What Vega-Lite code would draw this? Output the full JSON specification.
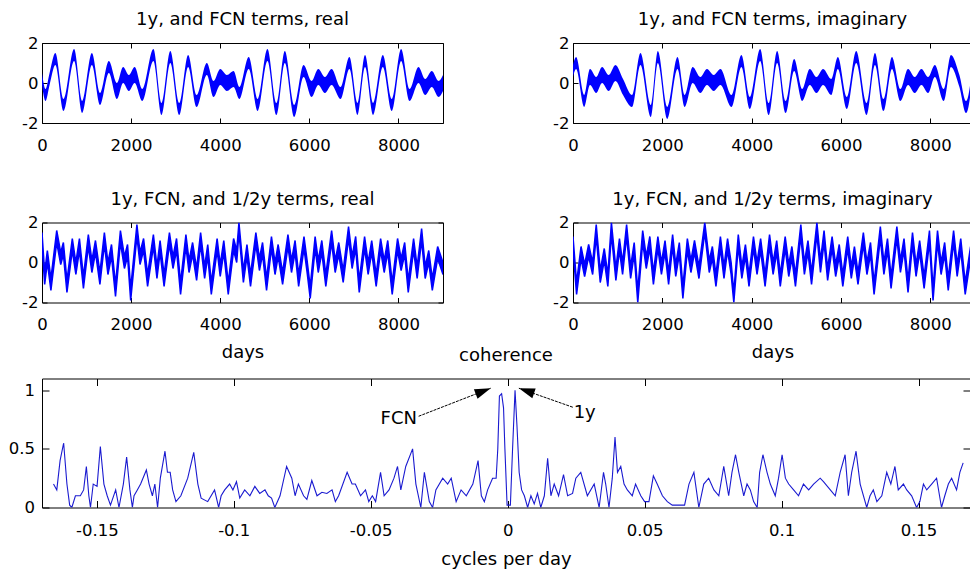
{
"$schema": "https://vega.github.io/schema/vega-lite/v6.json",
"background": "white",
"padding": {"left": 1, "top": 10, "right": 0, "bottom": 2},
"spacing": -16.5,
"datasets": {
"ts": [
{"p":"A","t":0,"lo":-0.1,"hi":0.5},{"p":"A","t":80,"lo":-0.9,"hi":-0.3},{"p":"A","t":170,"lo":-0.1,"hi":0.5},{"p":"A","t":300,"lo":0.9,"hi":1.5},{"p":"A","t":480,"lo":-1.4,"hi":-0.8},{"p":"A","t":720,"lo":1.1,"hi":1.7},{"p":"A","t":900,"lo":-1.5,"hi":-0.9},{"p":"A","t":1120,"lo":0.9,"hi":1.5},{"p":"A","t":1300,"lo":-1.1,"hi":-0.5},{"p":"A","t":1500,"lo":0.5,"hi":1.1},{"p":"A","t":1680,"lo":-0.8,"hi":0.0},{"p":"A","t":1820,"lo":0.0,"hi":0.8},{"p":"A","t":1950,"lo":-0.4,"hi":0.4},{"p":"A","t":2080,"lo":0.0,"hi":0.8},{"p":"A","t":2250,"lo":-0.9,"hi":-0.3},{"p":"A","t":2500,"lo":1.1,"hi":1.7},{"p":"A","t":2680,"lo":-1.6,"hi":-1.0},{"p":"A","t":2880,"lo":1.0,"hi":1.6},{"p":"A","t":3080,"lo":-1.6,"hi":-1.0},{"p":"A","t":3280,"lo":0.8,"hi":1.4},{"p":"A","t":3470,"lo":-1.2,"hi":-0.6},{"p":"A","t":3700,"lo":0.4,"hi":1.0},{"p":"A","t":3850,"lo":-0.7,"hi":0.1},{"p":"A","t":4000,"lo":-0.1,"hi":0.7},{"p":"A","t":4150,"lo":-0.4,"hi":0.4},{"p":"A","t":4300,"lo":-0.2,"hi":0.6},{"p":"A","t":4430,"lo":-0.8,"hi":-0.2},{"p":"A","t":4640,"lo":0.7,"hi":1.3},{"p":"A","t":4840,"lo":-1.4,"hi":-0.8},{"p":"A","t":5060,"lo":1.1,"hi":1.7},{"p":"A","t":5260,"lo":-1.6,"hi":-1.0},{"p":"A","t":5450,"lo":1.0,"hi":1.6},{"p":"A","t":5660,"lo":-1.7,"hi":-1.1},{"p":"A","t":5870,"lo":0.3,"hi":0.9},{"p":"A","t":6050,"lo":-0.7,"hi":0.1},{"p":"A","t":6200,"lo":-0.1,"hi":0.7},{"p":"A","t":6350,"lo":-0.5,"hi":0.3},{"p":"A","t":6500,"lo":-0.1,"hi":0.7},{"p":"A","t":6700,"lo":-0.8,"hi":-0.2},{"p":"A","t":6900,"lo":0.7,"hi":1.3},{"p":"A","t":7080,"lo":-1.6,"hi":-1.0},{"p":"A","t":7250,"lo":0.8,"hi":1.4},{"p":"A","t":7430,"lo":-1.6,"hi":-1.0},{"p":"A","t":7650,"lo":0.8,"hi":1.4},{"p":"A","t":7850,"lo":-1.4,"hi":-0.8},{"p":"A","t":8060,"lo":1.1,"hi":1.7},{"p":"A","t":8250,"lo":-0.9,"hi":-0.3},{"p":"A","t":8450,"lo":0.0,"hi":0.8},{"p":"A","t":8600,"lo":-0.6,"hi":0.2},{"p":"A","t":8750,"lo":-0.2,"hi":0.6},{"p":"A","t":8900,"lo":-0.7,"hi":0.1},{"p":"A","t":9000,"lo":-0.4,"hi":0.4},
{"p":"B","t":0,"lo":0.3,"hi":0.9},{"p":"B","t":70,"lo":0.7,"hi":1.3},{"p":"B","t":250,"lo":-1.2,"hi":-0.6},{"p":"B","t":380,"lo":-0.1,"hi":0.7},{"p":"B","t":520,"lo":-0.5,"hi":0.3},{"p":"B","t":650,"lo":0.0,"hi":0.8},{"p":"B","t":800,"lo":-0.4,"hi":0.4},{"p":"B","t":950,"lo":0.1,"hi":0.9},{"p":"B","t":1120,"lo":-0.6,"hi":0.2},{"p":"B","t":1320,"lo":-1.2,"hi":-0.6},{"p":"B","t":1510,"lo":0.9,"hi":1.5},{"p":"B","t":1740,"lo":-1.7,"hi":-1.1},{"p":"B","t":1900,"lo":1.0,"hi":1.6},{"p":"B","t":2110,"lo":-1.8,"hi":-1.2},{"p":"B","t":2340,"lo":0.7,"hi":1.3},{"p":"B","t":2500,"lo":-1.2,"hi":-0.6},{"p":"B","t":2680,"lo":0.0,"hi":0.8},{"p":"B","t":2850,"lo":-0.5,"hi":0.3},{"p":"B","t":3000,"lo":-0.1,"hi":0.7},{"p":"B","t":3150,"lo":-0.4,"hi":0.4},{"p":"B","t":3300,"lo":-0.1,"hi":0.7},{"p":"B","t":3550,"lo":-1.2,"hi":-0.6},{"p":"B","t":3770,"lo":0.8,"hi":1.4},{"p":"B","t":3960,"lo":-1.3,"hi":-0.7},{"p":"B","t":4190,"lo":1.1,"hi":1.7},{"p":"B","t":4380,"lo":-1.6,"hi":-1.0},{"p":"B","t":4570,"lo":1.0,"hi":1.6},{"p":"B","t":4760,"lo":-1.5,"hi":-0.9},{"p":"B","t":4950,"lo":0.6,"hi":1.2},{"p":"B","t":5130,"lo":-0.9,"hi":-0.3},{"p":"B","t":5300,"lo":-0.1,"hi":0.7},{"p":"B","t":5450,"lo":-0.5,"hi":0.3},{"p":"B","t":5600,"lo":-0.1,"hi":0.7},{"p":"B","t":5780,"lo":-0.6,"hi":0.2},{"p":"B","t":5930,"lo":0.7,"hi":1.3},{"p":"B","t":6130,"lo":-1.3,"hi":-0.7},{"p":"B","t":6340,"lo":1.0,"hi":1.6},{"p":"B","t":6570,"lo":-1.6,"hi":-1.0},{"p":"B","t":6760,"lo":0.9,"hi":1.5},{"p":"B","t":6950,"lo":-1.4,"hi":-0.8},{"p":"B","t":7140,"lo":0.7,"hi":1.3},{"p":"B","t":7330,"lo":-0.9,"hi":-0.3},{"p":"B","t":7500,"lo":-0.1,"hi":0.7},{"p":"B","t":7650,"lo":-0.5,"hi":0.3},{"p":"B","t":7800,"lo":-0.1,"hi":0.7},{"p":"B","t":7950,"lo":-0.5,"hi":0.3},{"p":"B","t":8100,"lo":0.3,"hi":0.9},{"p":"B","t":8300,"lo":-0.9,"hi":-0.3},{"p":"B","t":8460,"lo":0.8,"hi":1.4},{"p":"B","t":8650,"lo":-0.2,"hi":0.4},{"p":"B","t":8800,"lo":-1.5,"hi":-0.9},{"p":"B","t":8980,"lo":1.1,"hi":1.7},
{"p":"C","t":0,"lo":0.9,"hi":1.5},{"p":"C","t":60,"lo":-1.1,"hi":-0.5},{"p":"C","t":120,"lo":0.0,"hi":0.6},{"p":"C","t":200,"lo":-1.4,"hi":-0.8},{"p":"C","t":330,"lo":1.0,"hi":1.6},{"p":"C","t":420,"lo":-0.1,"hi":0.5},{"p":"C","t":480,"lo":0.4,"hi":1.0},{"p":"C","t":560,"lo":-1.5,"hi":-0.9},{"p":"C","t":680,"lo":0.6,"hi":1.2},{"p":"C","t":760,"lo":-0.6,"hi":0.0},{"p":"C","t":840,"lo":0.6,"hi":1.2},{"p":"C","t":930,"lo":-1.3,"hi":-0.7},{"p":"C","t":1040,"lo":0.8,"hi":1.4},{"p":"C","t":1120,"lo":-0.5,"hi":0.1},{"p":"C","t":1200,"lo":0.5,"hi":1.1},{"p":"C","t":1300,"lo":-1.1,"hi":-0.5},{"p":"C","t":1400,"lo":0.9,"hi":1.5},{"p":"C","t":1480,"lo":-0.6,"hi":0.0},{"p":"C","t":1560,"lo":0.3,"hi":0.9},{"p":"C","t":1650,"lo":-1.7,"hi":-1.1},{"p":"C","t":1760,"lo":1.0,"hi":1.6},{"p":"C","t":1850,"lo":-0.3,"hi":0.3},{"p":"C","t":1920,"lo":0.3,"hi":0.9},{"p":"C","t":1990,"lo":-1.9,"hi":-1.3},{"p":"C","t":2130,"lo":1.3,"hi":1.9},{"p":"C","t":2200,"lo":-0.1,"hi":0.5},{"p":"C","t":2280,"lo":0.6,"hi":1.2},{"p":"C","t":2370,"lo":-1.2,"hi":-0.6},{"p":"C","t":2500,"lo":0.8,"hi":1.4},{"p":"C","t":2580,"lo":-0.8,"hi":-0.2},{"p":"C","t":2650,"lo":0.5,"hi":1.1},{"p":"C","t":2740,"lo":-1.2,"hi":-0.6},{"p":"C","t":2860,"lo":0.9,"hi":1.5},{"p":"C","t":2940,"lo":-0.3,"hi":0.3},{"p":"C","t":3020,"lo":0.6,"hi":1.2},{"p":"C","t":3110,"lo":-1.6,"hi":-1.0},{"p":"C","t":3230,"lo":0.8,"hi":1.4},{"p":"C","t":3300,"lo":-0.5,"hi":0.1},{"p":"C","t":3380,"lo":0.4,"hi":1.0},{"p":"C","t":3470,"lo":-0.9,"hi":-0.3},{"p":"C","t":3560,"lo":0.9,"hi":1.5},{"p":"C","t":3650,"lo":-0.8,"hi":-0.2},{"p":"C","t":3720,"lo":0.3,"hi":0.9},{"p":"C","t":3800,"lo":-1.6,"hi":-1.0},{"p":"C","t":3930,"lo":0.6,"hi":1.2},{"p":"C","t":4000,"lo":-0.7,"hi":-0.1},{"p":"C","t":4080,"lo":0.5,"hi":1.1},{"p":"C","t":4180,"lo":-1.6,"hi":-1.0},{"p":"C","t":4300,"lo":0.6,"hi":1.2},{"p":"C","t":4370,"lo":0.0,"hi":0.6},{"p":"C","t":4420,"lo":1.5,"hi":2.0},{"p":"C","t":4520,"lo":-1.0,"hi":-0.4},{"p":"C","t":4600,"lo":0.3,"hi":0.9},{"p":"C","t":4680,"lo":-1.2,"hi":-0.6},{"p":"C","t":4800,"lo":0.9,"hi":1.5},{"p":"C","t":4880,"lo":-0.4,"hi":0.2},{"p":"C","t":4950,"lo":0.4,"hi":1.0},{"p":"C","t":5040,"lo":-1.4,"hi":-0.8},{"p":"C","t":5150,"lo":0.7,"hi":1.3},{"p":"C","t":5230,"lo":-0.6,"hi":0.0},{"p":"C","t":5300,"lo":0.3,"hi":0.9},{"p":"C","t":5400,"lo":-1.1,"hi":-0.5},{"p":"C","t":5520,"lo":0.8,"hi":1.4},{"p":"C","t":5600,"lo":-0.5,"hi":0.1},{"p":"C","t":5680,"lo":0.5,"hi":1.1},{"p":"C","t":5760,"lo":-1.2,"hi":-0.6},{"p":"C","t":5880,"lo":0.7,"hi":1.3},{"p":"C","t":5950,"lo":-0.5,"hi":0.1},{"p":"C","t":6020,"lo":-1.8,"hi":-1.2},{"p":"C","t":6130,"lo":0.7,"hi":1.3},{"p":"C","t":6200,"lo":-0.5,"hi":0.1},{"p":"C","t":6280,"lo":0.5,"hi":1.1},{"p":"C","t":6370,"lo":-1.2,"hi":-0.6},{"p":"C","t":6500,"lo":1.0,"hi":1.6},{"p":"C","t":6580,"lo":-0.5,"hi":0.1},{"p":"C","t":6660,"lo":0.4,"hi":1.0},{"p":"C","t":6760,"lo":-1.0,"hi":-0.4},{"p":"C","t":6880,"lo":1.2,"hi":1.8},{"p":"C","t":6960,"lo":-0.3,"hi":0.3},{"p":"C","t":7040,"lo":0.7,"hi":1.3},{"p":"C","t":7120,"lo":-1.5,"hi":-0.9},{"p":"C","t":7240,"lo":0.7,"hi":1.3},{"p":"C","t":7320,"lo":-0.6,"hi":0.0},{"p":"C","t":7400,"lo":0.5,"hi":1.1},{"p":"C","t":7500,"lo":-1.2,"hi":-0.6},{"p":"C","t":7600,"lo":0.6,"hi":1.2},{"p":"C","t":7680,"lo":-0.5,"hi":0.1},{"p":"C","t":7760,"lo":0.5,"hi":1.1},{"p":"C","t":7860,"lo":-1.6,"hi":-1.0},{"p":"C","t":7980,"lo":0.6,"hi":1.2},{"p":"C","t":8060,"lo":-0.4,"hi":0.2},{"p":"C","t":8140,"lo":0.4,"hi":1.0},{"p":"C","t":8220,"lo":-1.5,"hi":-0.9},{"p":"C","t":8340,"lo":0.6,"hi":1.2},{"p":"C","t":8420,"lo":-0.8,"hi":-0.2},{"p":"C","t":8520,"lo":1.1,"hi":1.7},{"p":"C","t":8600,"lo":-0.8,"hi":-0.2},{"p":"C","t":8680,"lo":0.0,"hi":0.6},{"p":"C","t":8760,"lo":-1.4,"hi":-0.8},{"p":"C","t":8880,"lo":0.2,"hi":0.8},{"p":"C","t":9000,"lo":-0.6,"hi":0.0},
{"p":"D","t":0,"lo":0.7,"hi":1.3},{"p":"D","t":80,"lo":-1.6,"hi":-1.0},{"p":"D","t":180,"lo":0.2,"hi":0.8},{"p":"D","t":260,"lo":-0.7,"hi":-0.1},{"p":"D","t":350,"lo":0.3,"hi":0.9},{"p":"D","t":440,"lo":-0.6,"hi":0.0},{"p":"D","t":520,"lo":1.3,"hi":1.9},{"p":"D","t":610,"lo":-1.0,"hi":-0.4},{"p":"D","t":700,"lo":0.1,"hi":0.7},{"p":"D","t":780,"lo":-1.2,"hi":-0.6},{"p":"D","t":860,"lo":1.4,"hi":2.0},{"p":"D","t":960,"lo":-0.9,"hi":-0.3},{"p":"D","t":1040,"lo":0.6,"hi":1.2},{"p":"D","t":1110,"lo":-0.6,"hi":0.0},{"p":"D","t":1200,"lo":1.3,"hi":1.9},{"p":"D","t":1290,"lo":-0.8,"hi":-0.2},{"p":"D","t":1370,"lo":0.4,"hi":1.0},{"p":"D","t":1450,"lo":-2.0,"hi":-1.4},{"p":"D","t":1560,"lo":1.0,"hi":1.6},{"p":"D","t":1640,"lo":-0.3,"hi":0.3},{"p":"D","t":1720,"lo":0.7,"hi":1.3},{"p":"D","t":1800,"lo":-1.1,"hi":-0.5},{"p":"D","t":1900,"lo":0.7,"hi":1.3},{"p":"D","t":1980,"lo":-0.6,"hi":0.0},{"p":"D","t":2060,"lo":0.5,"hi":1.1},{"p":"D","t":2140,"lo":-1.1,"hi":-0.5},{"p":"D","t":2230,"lo":0.8,"hi":1.4},{"p":"D","t":2300,"lo":-0.7,"hi":-0.1},{"p":"D","t":2380,"lo":0.4,"hi":1.0},{"p":"D","t":2460,"lo":-1.8,"hi":-1.2},{"p":"D","t":2560,"lo":0.6,"hi":1.2},{"p":"D","t":2640,"lo":-0.5,"hi":0.1},{"p":"D","t":2720,"lo":0.5,"hi":1.1},{"p":"D","t":2820,"lo":-0.8,"hi":-0.2},{"p":"D","t":2950,"lo":1.5,"hi":2.0},{"p":"D","t":3050,"lo":-0.5,"hi":0.1},{"p":"D","t":3120,"lo":0.2,"hi":0.8},{"p":"D","t":3200,"lo":-1.2,"hi":-0.6},{"p":"D","t":3300,"lo":0.7,"hi":1.3},{"p":"D","t":3380,"lo":-0.8,"hi":-0.2},{"p":"D","t":3460,"lo":0.6,"hi":1.2},{"p":"D","t":3540,"lo":-0.6,"hi":0.0},{"p":"D","t":3600,"lo":-2.0,"hi":-1.5},{"p":"D","t":3700,"lo":0.8,"hi":1.4},{"p":"D","t":3780,"lo":-0.8,"hi":-0.2},{"p":"D","t":3860,"lo":0.3,"hi":0.9},{"p":"D","t":3940,"lo":-1.2,"hi":-0.6},{"p":"D","t":4040,"lo":0.7,"hi":1.3},{"p":"D","t":4120,"lo":-0.6,"hi":0.0},{"p":"D","t":4200,"lo":0.6,"hi":1.2},{"p":"D","t":4300,"lo":-1.2,"hi":-0.6},{"p":"D","t":4400,"lo":0.8,"hi":1.4},{"p":"D","t":4480,"lo":-0.6,"hi":0.0},{"p":"D","t":4560,"lo":0.5,"hi":1.1},{"p":"D","t":4640,"lo":-1.2,"hi":-0.6},{"p":"D","t":4750,"lo":0.7,"hi":1.3},{"p":"D","t":4830,"lo":-0.7,"hi":-0.1},{"p":"D","t":4900,"lo":0.2,"hi":0.8},{"p":"D","t":4980,"lo":-1.2,"hi":-0.6},{"p":"D","t":5100,"lo":1.3,"hi":1.9},{"p":"D","t":5180,"lo":-0.6,"hi":0.0},{"p":"D","t":5260,"lo":0.5,"hi":1.1},{"p":"D","t":5340,"lo":-1.1,"hi":-0.5},{"p":"D","t":5460,"lo":1.4,"hi":2.0},{"p":"D","t":5540,"lo":-0.5,"hi":0.1},{"p":"D","t":5620,"lo":1.0,"hi":1.6},{"p":"D","t":5700,"lo":-0.9,"hi":-0.3},{"p":"D","t":5800,"lo":0.7,"hi":1.3},{"p":"D","t":5880,"lo":-0.7,"hi":-0.1},{"p":"D","t":5960,"lo":0.3,"hi":0.9},{"p":"D","t":6040,"lo":-1.2,"hi":-0.6},{"p":"D","t":6150,"lo":0.7,"hi":1.3},{"p":"D","t":6230,"lo":-0.8,"hi":-0.2},{"p":"D","t":6300,"lo":0.2,"hi":0.8},{"p":"D","t":6380,"lo":-1.1,"hi":-0.5},{"p":"D","t":6500,"lo":0.9,"hi":1.5},{"p":"D","t":6580,"lo":-0.6,"hi":0.0},{"p":"D","t":6660,"lo":0.4,"hi":1.0},{"p":"D","t":6740,"lo":-1.6,"hi":-1.0},{"p":"D","t":6880,"lo":1.2,"hi":1.8},{"p":"D","t":6960,"lo":-0.6,"hi":0.0},{"p":"D","t":7040,"lo":0.6,"hi":1.2},{"p":"D","t":7120,"lo":-1.3,"hi":-0.7},{"p":"D","t":7250,"lo":1.2,"hi":1.8},{"p":"D","t":7330,"lo":-0.5,"hi":0.1},{"p":"D","t":7410,"lo":0.6,"hi":1.2},{"p":"D","t":7500,"lo":-1.5,"hi":-0.9},{"p":"D","t":7600,"lo":0.9,"hi":1.5},{"p":"D","t":7680,"lo":-0.7,"hi":-0.1},{"p":"D","t":7760,"lo":0.5,"hi":1.1},{"p":"D","t":7860,"lo":-1.3,"hi":-0.7},{"p":"D","t":7980,"lo":1.0,"hi":1.6},{"p":"D","t":8060,"lo":-1.9,"hi":-1.3},{"p":"D","t":8160,"lo":1.0,"hi":1.6},{"p":"D","t":8240,"lo":-0.6,"hi":0.0},{"p":"D","t":8320,"lo":0.4,"hi":1.0},{"p":"D","t":8400,"lo":-1.4,"hi":-0.8},{"p":"D","t":8520,"lo":1.0,"hi":1.6},{"p":"D","t":8600,"lo":-0.7,"hi":-0.1},{"p":"D","t":8680,"lo":0.6,"hi":1.2},{"p":"D","t":8780,"lo":-1.6,"hi":-1.0},{"p":"D","t":8900,"lo":0.2,"hi":0.8},{"p":"D","t":8960,"lo":-0.5,"hi":0.1}
],
"coh": [
{"f":-0.1658,"c":0.2},{"f":-0.1646,"c":0.15},{"f":-0.1634,"c":0.4},{"f":-0.1621,"c":0.55},{"f":-0.1609,"c":0.2},{"f":-0.1599,"c":0.02},{"f":-0.1591,"c":0.0},{"f":-0.1578,"c":0.1},{"f":-0.156,"c":0.1},{"f":-0.1548,"c":0.15},{"f":-0.1538,"c":0.35},{"f":-0.1529,"c":0.1},{"f":-0.1523,"c":0.0},{"f":-0.1513,"c":0.2},{"f":-0.1499,"c":0.18},{"f":-0.1487,"c":0.52},{"f":-0.1474,"c":0.2},{"f":-0.1462,"c":0.1},{"f":-0.145,"c":0.02},{"f":-0.1431,"c":0.15},{"f":-0.1419,"c":0.0},{"f":-0.1403,"c":0.2},{"f":-0.1391,"c":0.43},{"f":-0.1379,"c":0.15},{"f":-0.137,"c":0.0},{"f":-0.1364,"c":0.1},{"f":-0.1352,"c":0.15},{"f":-0.134,"c":0.2},{"f":-0.1319,"c":0.32},{"f":-0.1309,"c":0.2},{"f":-0.1297,"c":0.1},{"f":-0.1288,"c":0.2},{"f":-0.1278,"c":0.0},{"f":-0.1268,"c":0.25},{"f":-0.1251,"c":0.48},{"f":-0.1242,"c":0.3},{"f":-0.1232,"c":0.3},{"f":-0.1223,"c":0.15},{"f":-0.1211,"c":0.05},{"f":-0.1193,"c":0.1},{"f":-0.1168,"c":0.25},{"f":-0.1146,"c":0.47},{"f":-0.1131,"c":0.2},{"f":-0.1119,"c":0.08},{"f":-0.1095,"c":0.05},{"f":-0.107,"c":0.15},{"f":-0.1055,"c":0.0},{"f":-0.1046,"c":0.1},{"f":-0.1033,"c":0.15},{"f":-0.1015,"c":0.2},{"f":-0.1003,"c":0.15},{"f":-0.099,"c":0.22},{"f":-0.0978,"c":0.08},{"f":-0.096,"c":0.15},{"f":-0.0941,"c":0.1},{"f":-0.0923,"c":0.18},{"f":-0.0905,"c":0.12},{"f":-0.0886,"c":0.15},{"f":-0.0874,"c":0.1},{"f":-0.0862,"c":0.08},{"f":-0.085,"c":0.0},{"f":-0.0831,"c":0.1},{"f":-0.0807,"c":0.35},{"f":-0.0788,"c":0.25},{"f":-0.0776,"c":0.1},{"f":-0.0764,"c":0.2},{"f":-0.0745,"c":0.1},{"f":-0.0733,"c":0.07},{"f":-0.0715,"c":0.23},{"f":-0.0696,"c":0.1},{"f":-0.0678,"c":0.13},{"f":-0.066,"c":0.12},{"f":-0.0641,"c":0.15},{"f":-0.0629,"c":0.05},{"f":-0.0617,"c":0.1},{"f":-0.0586,"c":0.3},{"f":-0.0568,"c":0.2},{"f":-0.0556,"c":0.2},{"f":-0.0537,"c":0.1},{"f":-0.0519,"c":0.15},{"f":-0.0507,"c":0.05},{"f":-0.0494,"c":0.1},{"f":-0.0482,"c":0.05},{"f":-0.0464,"c":0.3},{"f":-0.0451,"c":0.1},{"f":-0.0433,"c":0.15},{"f":-0.0415,"c":0.25},{"f":-0.0402,"c":0.35},{"f":-0.039,"c":0.15},{"f":-0.0372,"c":0.35},{"f":-0.0347,"c":0.5},{"f":-0.0335,"c":0.2},{"f":-0.0317,"c":0.0},{"f":-0.0304,"c":0.3},{"f":-0.0286,"c":0.05},{"f":-0.0274,"c":0.0},{"f":-0.0262,"c":0.15},{"f":-0.0237,"c":0.25},{"f":-0.0219,"c":0.2},{"f":-0.0206,"c":0.25},{"f":-0.0188,"c":0.05},{"f":-0.017,"c":0.15},{"f":-0.0151,"c":0.1},{"f":-0.0127,"c":0.2},{"f":-0.0108,"c":0.4},{"f":-0.0096,"c":0.1},{"f":-0.0085,"c":0.05},{"f":-0.0073,"c":0.15},{"f":-0.0055,"c":0.25},{"f":-0.0042,"c":0.25},{"f":-0.0036,"c":0.5},{"f":-0.003,"c":0.95},{"f":-0.0022,"c":0.97},{"f":-0.0015,"c":0.85},{"f":-0.001,"c":0.5},{"f":-0.0002,"c":0.02},{"f":0.001,"c":0.02},{"f":0.0018,"c":0.5},{"f":0.0027,"c":1.0},{"f":0.0034,"c":0.7},{"f":0.0042,"c":0.3},{"f":0.0051,"c":0.15},{"f":0.0061,"c":0.1},{"f":0.0073,"c":0.0},{"f":0.0085,"c":0.1},{"f":0.0097,"c":0.03},{"f":0.0109,"c":0.12},{"f":0.0121,"c":0.0},{"f":0.0134,"c":0.1},{"f":0.0146,"c":0.42},{"f":0.0158,"c":0.1},{"f":0.017,"c":0.2},{"f":0.0186,"c":0.1},{"f":0.0204,"c":0.28},{"f":0.0219,"c":0.1},{"f":0.0237,"c":0.12},{"f":0.0249,"c":0.25},{"f":0.0267,"c":0.3},{"f":0.0291,"c":0.1},{"f":0.0316,"c":0.2},{"f":0.0334,"c":0.0},{"f":0.035,"c":0.3},{"f":0.0358,"c":0.2},{"f":0.037,"c":0.0},{"f":0.0382,"c":0.25},{"f":0.0392,"c":0.6},{"f":0.0401,"c":0.3},{"f":0.0413,"c":0.35},{"f":0.0425,"c":0.2},{"f":0.0437,"c":0.15},{"f":0.0455,"c":0.1},{"f":0.0467,"c":0.2},{"f":0.0486,"c":0.1},{"f":0.05,"c":0.05},{"f":0.0516,"c":0.05},{"f":0.0532,"c":0.27},{"f":0.0546,"c":0.2},{"f":0.0565,"c":0.1},{"f":0.0583,"c":0.05},{"f":0.0601,"c":0.02},{"f":0.0646,"c":0.02},{"f":0.0662,"c":0.2},{"f":0.068,"c":0.3},{"f":0.0698,"c":0.0},{"f":0.0716,"c":0.2},{"f":0.0734,"c":0.25},{"f":0.0753,"c":0.15},{"f":0.0771,"c":0.1},{"f":0.0789,"c":0.35},{"f":0.0807,"c":0.1},{"f":0.0819,"c":0.3},{"f":0.0832,"c":0.45},{"f":0.0844,"c":0.3},{"f":0.0862,"c":0.1},{"f":0.0874,"c":0.2},{"f":0.0886,"c":0.15},{"f":0.0898,"c":0.05},{"f":0.0911,"c":0.0},{"f":0.092,"c":0.3},{"f":0.0932,"c":0.45},{"f":0.0947,"c":0.3},{"f":0.0959,"c":0.2},{"f":0.0977,"c":0.1},{"f":0.0989,"c":0.25},{"f":0.1002,"c":0.45},{"f":0.1014,"c":0.25},{"f":0.1026,"c":0.2},{"f":0.1044,"c":0.15},{"f":0.1062,"c":0.1},{"f":0.108,"c":0.2},{"f":0.1099,"c":0.15},{"f":0.1117,"c":0.2},{"f":0.1141,"c":0.25},{"f":0.1153,"c":0.22},{"f":0.1178,"c":0.15},{"f":0.1196,"c":0.1},{"f":0.1214,"c":0.3},{"f":0.1232,"c":0.45},{"f":0.1244,"c":0.1},{"f":0.1256,"c":0.3},{"f":0.1272,"c":0.48},{"f":0.1287,"c":0.2},{"f":0.1311,"c":0.0},{"f":0.1323,"c":0.1},{"f":0.1335,"c":0.15},{"f":0.1348,"c":0.05},{"f":0.1366,"c":0.1},{"f":0.1384,"c":0.3},{"f":0.1399,"c":0.2},{"f":0.1414,"c":0.35},{"f":0.1426,"c":0.15},{"f":0.1445,"c":0.2},{"f":0.1457,"c":0.15},{"f":0.1475,"c":0.1},{"f":0.1493,"c":0.0},{"f":0.1505,"c":0.05},{"f":0.1518,"c":0.2},{"f":0.153,"c":0.15},{"f":0.1548,"c":0.2},{"f":0.1566,"c":0.25},{"f":0.1584,"c":0.0},{"f":0.1596,"c":0.1},{"f":0.1609,"c":0.2},{"f":0.1621,"c":0.25},{"f":0.1639,"c":0.15},{"f":0.1651,"c":0.3},{"f":0.1663,"c":0.38}
],
"ann": [
{"label":"FCN","x1":-0.0325,"y1":0.778,"x2":-0.0062,"y2":1.017,"tx":-0.0331,"ty":0.71},
{"label":"1y","x1":0.0238,"y1":0.855,"x2":0.0041,"y2":1.017,"tx":0.0241,"ty":0.767}
]
},
"vconcat": [
{"spacing": 35.5, "vconcat": [
 {"spacing": 88, "hconcat": [
  {"width": 401, "height": 80, "title": {"text": "1y, and FCN terms, real", "offset": 6}, "data": {"name": "ts"}, "transform": [{"filter": "datum.p == 'A'"}],
   "layer": [
    {"mark": {"type": "area", "color": "#0000ff", "clip": true, "interpolate": "monotone"},
     "encoding": {"x": {"field": "t", "type": "quantitative", "scale": {"domain": [0, 9000], "nice": false, "zero": false}, "axis": {"orient": "bottom", "values": [0,2000,4000,6000,8000], "ticks": false, "labelPadding": 27, "labelBaseline": "alphabetic", "labelExpr": "'' + datum.value", "title": null}},
      "y": {"field": "lo", "type": "quantitative", "scale": {"domain": [-2, 2], "nice": false, "zero": false}, "axis": {"orient": "left", "values": [-2,0,2], "ticks": false, "labelPadding": 4, "labelBaseline": "middle", "labelExpr": "'' + datum.value", "title": " ", "titleX": -40, "titleY": 40, "titleAngle": 0, "titleAlign": "left", "titleBaseline": "middle"}},
      "y2": {"field": "hi"}}},
    {"mark": {"type": "area", "opacity": 0, "clip": true},
     "encoding": {"x": {"field": "t", "type": "quantitative", "scale": {"domain": [0, 9000], "nice": false, "zero": false}, "axis": {"orient": "bottom", "values": [0,2000,4000,6000,8000], "labels": false, "tickSize": -5, "title": null}},
      "y": {"field": "lo", "type": "quantitative", "scale": {"domain": [-2, 2], "nice": false, "zero": false}, "axis": {"orient": "left", "values": [-2,0,2], "labels": false, "tickSize": -5, "title": null}},
      "y2": {"field": "hi"}}},
    {"mark": {"type": "area", "opacity": 0, "clip": true},
     "encoding": {"x": {"field": "t", "type": "quantitative", "scale": {"domain": [0, 9000], "nice": false, "zero": false}, "axis": {"orient": "top", "values": [0,2000,4000,6000,8000], "labels": false, "tickSize": -5, "title": null}},
      "y": {"field": "lo", "type": "quantitative", "scale": {"domain": [-2, 2], "nice": false, "zero": false}, "axis": {"orient": "right", "values": [-2,0,2], "labels": false, "tickSize": -5, "title": null}},
      "y2": {"field": "hi"}}}
   ],
   "resolve": {"axis": {"x": "independent", "y": "independent"}}},
  {"width": 399, "height": 80, "title": {"text": "1y, and FCN terms, imaginary", "offset": 6}, "data": {"name": "ts"}, "transform": [{"filter": "datum.p == 'B'"}],
   "layer": [
    {"mark": {"type": "area", "color": "#0000ff", "clip": true, "interpolate": "monotone"},
     "encoding": {"x": {"field": "t", "type": "quantitative", "scale": {"domain": [0, 8932], "nice": false, "zero": false}, "axis": {"orient": "bottom", "values": [0,2000,4000,6000,8000], "ticks": false, "labelPadding": 27, "labelBaseline": "alphabetic", "labelExpr": "'' + datum.value", "title": null}},
      "y": {"field": "lo", "type": "quantitative", "scale": {"domain": [-2, 2], "nice": false, "zero": false}, "axis": {"orient": "left", "values": [-2,0,2], "ticks": false, "labelPadding": 4, "labelBaseline": "middle", "labelExpr": "'' + datum.value", "title": " ", "titleX": -40, "titleY": 40, "titleAngle": 0, "titleAlign": "left", "titleBaseline": "middle"}},
      "y2": {"field": "hi"}}},
    {"mark": {"type": "area", "opacity": 0, "clip": true},
     "encoding": {"x": {"field": "t", "type": "quantitative", "scale": {"domain": [0, 8932], "nice": false, "zero": false}, "axis": {"orient": "bottom", "values": [0,2000,4000,6000,8000], "labels": false, "tickSize": -5, "title": null}},
      "y": {"field": "lo", "type": "quantitative", "scale": {"domain": [-2, 2], "nice": false, "zero": false}, "axis": {"orient": "left", "values": [-2,0,2], "labels": false, "tickSize": -5, "title": null}},
      "y2": {"field": "hi"}}},
    {"mark": {"type": "area", "opacity": 0, "clip": true},
     "encoding": {"x": {"field": "t", "type": "quantitative", "scale": {"domain": [0, 8932], "nice": false, "zero": false}, "axis": {"orient": "top", "values": [0,2000,4000,6000,8000], "labels": false, "tickSize": -5, "title": null}},
      "y": {"field": "lo", "type": "quantitative", "scale": {"domain": [-2, 2], "nice": false, "zero": false}, "axis": null},
      "y2": {"field": "hi"}}}
   ],
   "resolve": {"axis": {"x": "independent", "y": "independent"}}}
 ]},
 {"spacing": 88, "hconcat": [
  {"width": 401, "height": 80, "title": {"text": "1y, FCN, and 1/2y terms, real", "offset": 6}, "data": {"name": "ts"}, "transform": [{"filter": "datum.p == 'C'"}],
   "layer": [
    {"mark": {"type": "area", "color": "#0000ff", "stroke": "#0000ff", "strokeWidth": 1.5, "clip": true},
     "encoding": {"x": {"field": "t", "type": "quantitative", "scale": {"domain": [0, 9000], "nice": false, "zero": false}, "axis": {"orient": "bottom", "values": [0,2000,4000,6000,8000], "ticks": false, "labelPadding": 27, "labelBaseline": "alphabetic", "labelExpr": "'' + datum.value", "title": "days", "titleY": 54.5, "titleBaseline": "alphabetic"}},
      "y": {"field": "lo", "type": "quantitative", "scale": {"domain": [-2, 2], "nice": false, "zero": false}, "axis": {"orient": "left", "values": [-2,0,2], "ticks": false, "labelPadding": 4, "labelBaseline": "middle", "labelExpr": "'' + datum.value", "title": " ", "titleX": -40, "titleY": 40, "titleAngle": 0, "titleAlign": "left", "titleBaseline": "middle"}},
      "y2": {"field": "hi"}}},
    {"mark": {"type": "area", "opacity": 0, "clip": true},
     "encoding": {"x": {"field": "t", "type": "quantitative", "scale": {"domain": [0, 9000], "nice": false, "zero": false}, "axis": {"orient": "bottom", "values": [0,2000,4000,6000,8000], "labels": false, "tickSize": -5, "title": null}},
      "y": {"field": "lo", "type": "quantitative", "scale": {"domain": [-2, 2], "nice": false, "zero": false}, "axis": {"orient": "left", "values": [-2,0,2], "labels": false, "tickSize": -5, "title": null}},
      "y2": {"field": "hi"}}},
    {"mark": {"type": "area", "opacity": 0, "clip": true},
     "encoding": {"x": {"field": "t", "type": "quantitative", "scale": {"domain": [0, 9000], "nice": false, "zero": false}, "axis": {"orient": "top", "values": [0,2000,4000,6000,8000], "labels": false, "tickSize": -5, "title": null}},
      "y": {"field": "lo", "type": "quantitative", "scale": {"domain": [-2, 2], "nice": false, "zero": false}, "axis": {"orient": "right", "values": [-2,0,2], "labels": false, "tickSize": -5, "title": null}},
      "y2": {"field": "hi"}}}
   ],
   "resolve": {"axis": {"x": "independent", "y": "independent"}}},
  {"width": 399, "height": 80, "title": {"text": "1y, FCN, and 1/2y terms, imaginary", "offset": 6}, "data": {"name": "ts"}, "transform": [{"filter": "datum.p == 'D'"}],
   "layer": [
    {"mark": {"type": "area", "color": "#0000ff", "stroke": "#0000ff", "strokeWidth": 1.5, "clip": true},
     "encoding": {"x": {"field": "t", "type": "quantitative", "scale": {"domain": [0, 8932], "nice": false, "zero": false}, "axis": {"orient": "bottom", "values": [0,2000,4000,6000,8000], "ticks": false, "labelPadding": 27, "labelBaseline": "alphabetic", "labelExpr": "'' + datum.value", "title": "days", "titleY": 54.5, "titleBaseline": "alphabetic"}},
      "y": {"field": "lo", "type": "quantitative", "scale": {"domain": [-2, 2], "nice": false, "zero": false}, "axis": {"orient": "left", "values": [-2,0,2], "ticks": false, "labelPadding": 4, "labelBaseline": "middle", "labelExpr": "'' + datum.value", "title": " ", "titleX": -40, "titleY": 40, "titleAngle": 0, "titleAlign": "left", "titleBaseline": "middle"}},
      "y2": {"field": "hi"}}},
    {"mark": {"type": "area", "opacity": 0, "clip": true},
     "encoding": {"x": {"field": "t", "type": "quantitative", "scale": {"domain": [0, 8932], "nice": false, "zero": false}, "axis": {"orient": "bottom", "values": [0,2000,4000,6000,8000], "labels": false, "tickSize": -5, "title": null}},
      "y": {"field": "lo", "type": "quantitative", "scale": {"domain": [-2, 2], "nice": false, "zero": false}, "axis": {"orient": "left", "values": [-2,0,2], "labels": false, "tickSize": -5, "title": null}},
      "y2": {"field": "hi"}}},
    {"mark": {"type": "area", "opacity": 0, "clip": true},
     "encoding": {"x": {"field": "t", "type": "quantitative", "scale": {"domain": [0, 8932], "nice": false, "zero": false}, "axis": {"orient": "top", "values": [0,2000,4000,6000,8000], "labels": false, "tickSize": -5, "title": null}},
      "y": {"field": "lo", "type": "quantitative", "scale": {"domain": [-2, 2], "nice": false, "zero": false}, "axis": null},
      "y2": {"field": "hi"}}}
   ],
   "resolve": {"axis": {"x": "independent", "y": "independent"}}}
 ]}
]},
{"width": 928, "height": 129, "title": {"text": "coherence", "offset": 13.5},
 "layer": [
  {"data": {"name": "coh"}, "mark": {"type": "line", "color": "#1a1ad0", "strokeWidth": 1.1, "clip": true},
   "encoding": {"x": {"field": "f", "type": "quantitative", "scale": {"domain": [-0.17, 0.1688], "nice": false, "zero": false}, "axis": {"orient": "bottom", "values": [-0.15,-0.1,-0.05,0,0.05,0.1,0.15], "ticks": false, "labelPadding": 28, "labelBaseline": "alphabetic", "labelExpr": "'' + datum.value", "title": "cycles per day", "titleY": 57, "titleBaseline": "alphabetic"}},
    "y": {"field": "c", "type": "quantitative", "scale": {"domain": [0, 1.1], "nice": false, "zero": false}, "axis": {"orient": "left", "values": [0,0.5,1], "ticks": false, "labelPadding": 7.5, "labelBaseline": "middle", "labelExpr": "'' + datum.value", "title": " ", "titleX": -40, "titleY": 60, "titleAngle": 0, "titleAlign": "left", "titleBaseline": "middle"}}}},
  {"data": {"name": "coh"}, "mark": {"type": "line", "opacity": 0, "clip": true},
   "encoding": {"x": {"field": "f", "type": "quantitative", "scale": {"domain": [-0.17, 0.1688], "nice": false, "zero": false}, "axis": {"orient": "bottom", "values": [-0.15,-0.1,-0.05,0,0.05,0.1,0.15], "labels": false, "tickSize": -7, "title": null}},
    "y": {"field": "c", "type": "quantitative", "scale": {"domain": [0, 1.1], "nice": false, "zero": false}, "axis": {"orient": "left", "values": [0,0.5,1], "labels": false, "tickSize": -7, "title": null}}}},
  {"data": {"name": "coh"}, "mark": {"type": "line", "opacity": 0, "clip": true},
   "encoding": {"x": {"field": "f", "type": "quantitative", "scale": {"domain": [-0.17, 0.1688], "nice": false, "zero": false}, "axis": {"orient": "top", "values": [-0.15,-0.1,-0.05,0,0.05,0.1,0.15], "labels": false, "tickSize": -7, "title": null}},
    "y": {"field": "c", "type": "quantitative", "scale": {"domain": [0, 1.1], "nice": false, "zero": false}, "axis": {"orient": "right", "values": [0,0.5,1], "labels": false, "tickSize": -7, "title": null}}}},
  {"data": {"name": "ann"}, "mark": {"type": "rule", "color": "#000", "strokeWidth": 1, "strokeDash": [3, 1]},
   "encoding": {"x": {"field": "x1", "type": "quantitative", "scale": {"domain": [-0.17, 0.1688], "nice": false, "zero": false}, "axis": null},
    "y": {"field": "y1", "type": "quantitative", "scale": {"domain": [0, 1.1], "nice": false, "zero": false}, "axis": null},
    "x2": {"field": "x2"}, "y2": {"field": "y2"}}},
  {"data": {"name": "ann"}, "transform": [{"filter": "datum.label == 'FCN'"}], "mark": {"type": "point", "shape": "M0,0L-1,-0.32L-1,0.32Z", "filled": true, "color": "#000", "opacity": 1, "size": 1024, "angle": -21},
   "encoding": {"x": {"field": "x2", "type": "quantitative", "scale": {"domain": [-0.17, 0.1688], "nice": false, "zero": false}, "axis": null},
    "y": {"field": "y2", "type": "quantitative", "scale": {"domain": [0, 1.1], "nice": false, "zero": false}, "axis": null}}},
  {"data": {"name": "ann"}, "transform": [{"filter": "datum.label == '1y'"}], "mark": {"type": "point", "shape": "M0,0L-1,-0.32L-1,0.32Z", "filled": true, "color": "#000", "opacity": 1, "size": 1024, "angle": 199},
   "encoding": {"x": {"field": "x2", "type": "quantitative", "scale": {"domain": [-0.17, 0.1688], "nice": false, "zero": false}, "axis": null},
    "y": {"field": "y2", "type": "quantitative", "scale": {"domain": [0, 1.1], "nice": false, "zero": false}, "axis": null}}},
  {"data": {"name": "ann"}, "transform": [{"filter": "datum.label == 'FCN'"}], "mark": {"type": "text", "align": "right", "baseline": "alphabetic", "font": "DejaVu Sans", "fontSize": 18, "color": "#000"},
   "encoding": {"x": {"field": "tx", "type": "quantitative", "scale": {"domain": [-0.17, 0.1688], "nice": false, "zero": false}, "axis": null},
    "y": {"field": "ty", "type": "quantitative", "scale": {"domain": [0, 1.1], "nice": false, "zero": false}, "axis": null},
    "text": {"field": "label"}}},
  {"data": {"name": "ann"}, "transform": [{"filter": "datum.label == '1y'"}], "mark": {"type": "text", "align": "left", "baseline": "alphabetic", "font": "DejaVu Sans", "fontSize": 18, "color": "#000"},
   "encoding": {"x": {"field": "tx", "type": "quantitative", "scale": {"domain": [-0.17, 0.1688], "nice": false, "zero": false}, "axis": null},
    "y": {"field": "ty", "type": "quantitative", "scale": {"domain": [0, 1.1], "nice": false, "zero": false}, "axis": null},
    "text": {"field": "label"}}}
 ],
 "resolve": {"axis": {"x": "independent", "y": "independent"}}}
],
"config": {
 "view": {"stroke": "#000", "strokeWidth": 1},
 "font": "DejaVu Sans",
 "axis": {"grid": false, "domain": false, "minExtent": 0, "labelFont": "DejaVu Sans", "labelFontSize": 16.5, "labelColor": "#000", "tickColor": "#000", "titleFont": "DejaVu Sans", "titleFontSize": 18, "titleFontWeight": "normal", "titleColor": "#000", "labelFlush": false, "labelOverlap": false},
 "title": {"font": "DejaVu Sans", "fontSize": 18, "fontWeight": "normal", "color": "#000", "offset": 18, "baseline": "alphabetic", "anchor": "middle", "frame": "group"}
}
}
